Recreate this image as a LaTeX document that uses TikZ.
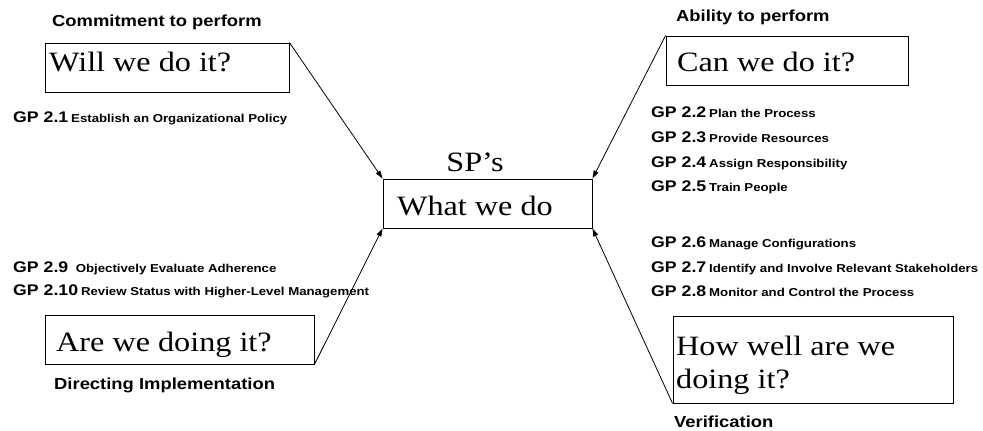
\documentclass[tikz,border=0pt]{standalone}
\usepackage{fontspec}
\usepackage{graphicx}
\setmainfont{Liberation Serif}
\newfontfamily\labelfont{Liberation Sans}
\usetikzlibrary{arrows.meta}

% slightly widened lettering
\newcommand{\widetxt}[1]{\scalebox{1.15}[1]{#1}}
\newcommand{\qfont}{\fontsize{28}{28}\selectfont}
\newcommand{\hfont}{\labelfont\bfseries\fontsize{16}{16}\selectfont}
\newcommand{\gpbig}{\labelfont\bfseries\fontsize{15.4}{15.4}\selectfont}
\newcommand{\gpsmall}{\labelfont\bfseries\fontsize{11.5}{11.5}\selectfont}
\newcommand{\gp}[2]{\widetxt{{\gpbig GP #1} {\gpsmall #2}}}

\begin{document}
\begin{tikzpicture}[x=1pt,y=-1pt,
  box/.style={draw, line width=0.9pt, inner sep=0pt},
  txt/.style={anchor=base west, inner sep=0pt},
  arr/.style={line width=0.8pt, -{Triangle[length=8pt,width=5pt]}}]
  \useasboundingbox (0,0) rectangle (983,431);

  % question boxes
  \node[box, minimum width=244pt, minimum height=49pt] (will) at (167,67.5) {};
  \node[box, minimum width=242pt, minimum height=49pt] (can)  at (787,60.5) {};
  \node[box, minimum width=209pt, minimum height=49pt] (sp)   at (487.5,203.5) {};
  \node[box, minimum width=269pt, minimum height=49pt] (are)  at (179.5,339.5) {};
  \node[box, minimum width=280pt, minimum height=87pt] (how)  at (813,359.5) {};

  % box texts
  \node[txt] (willt) at (49,71)  {\widetxt{\qfont Will we do it?}};
  \node[txt] (cant)  at (677,71) {\widetxt{\qfont Can we do it?}};
  \node[anchor=base, inner sep=0pt] (spt) at (475,171) {\widetxt{\qfont SP’s}};
  \node[txt] (wwd)   at (397,215) {\widetxt{\qfont What we do}};
  \node[txt] (aret)  at (56,351) {\widetxt{\qfont Are we doing it?}};
  \node[txt] (how1)  at (676,355) {\widetxt{\qfont How well are we}};
  \node[txt] (how2)  at (676,388) {\widetxt{\qfont doing it?}};

  % headings
  \node[txt] (commit) at (52,27)  {\widetxt{\hfont Commitment to perform}};
  \node[txt] (abil)   at (676,21) {\widetxt{\hfont Ability to perform}};
  \node[txt] (direct) at (54,389) {\widetxt{\hfont Directing Implementation}};
  \node[txt] (verif)  at (674,427) {\widetxt{\hfont Verification}};

  % generic practices
  \node[txt] (gp21)  at (13,122)  {\gp{2.1}{Establish an Organizational Policy}};
  \node[txt] (gp22)  at (651,117) {\gp{2.2}{Plan the Process}};
  \node[txt] (gp23)  at (651,142) {\gp{2.3}{Provide Resources}};
  \node[txt] (gp24)  at (651,167) {\gp{2.4}{Assign Responsibility}};
  \node[txt] (gp25)  at (651,191) {\gp{2.5}{Train People}};
  \node[txt] (gp26)  at (651,247) {\gp{2.6}{Manage Configurations}};
  \node[txt] (gp27)  at (651,272) {\gp{2.7}{Identify and Involve Relevant Stakeholders}};
  \node[txt] (gp28)  at (651,296) {\gp{2.8}{Monitor and Control the Process}};
  \node[txt] (gp29)  at (13,272)  {\gp{2.9}{\hspace{4pt}Objectively Evaluate Adherence}};
  \node[txt] (gp210) at (13,295)  {\gp{2.10}{Review Status with Higher-Level Management}};

  % connectors into the centre box
  \draw[arr] (will.north east) -- (sp.north west);
  \draw[arr] (can.north west)  -- (sp.north east);
  \draw[arr] (are.south east)  -- (sp.south west);
  \draw[arr] (how.south west)  -- (sp.south east);
\end{tikzpicture}
\end{document}
